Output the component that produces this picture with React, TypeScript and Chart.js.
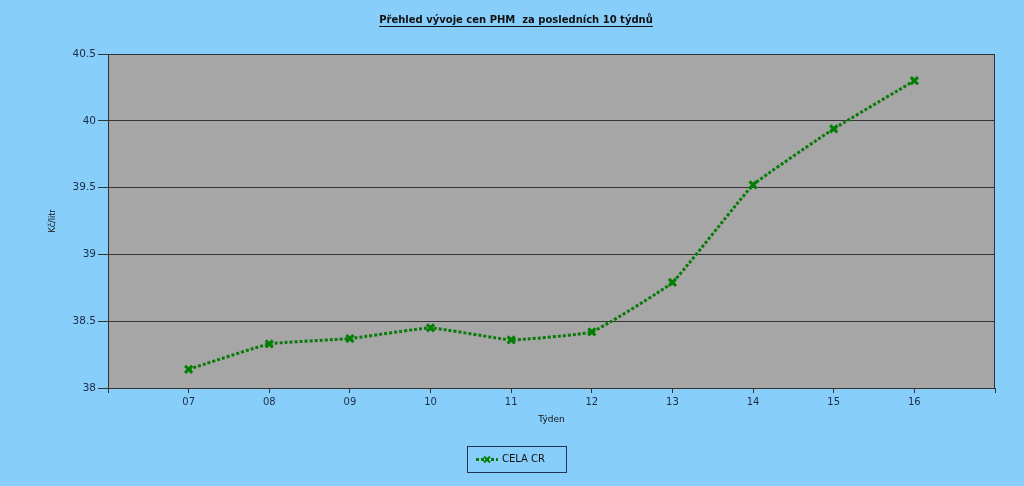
import React, { useEffect, useRef } from "react";
import { Chart, registerables } from "chart.js";

Chart.register(...registerables);

const weekLabels = ["", "07", "08", "09", "10", "11", "12", "13", "14", "15", "16", ""];
const celaCR = [null, 38.14, 38.33, 38.37, 38.45, 38.36, 38.42, 38.79, 39.52, 39.94, 40.3, null];
const yMin = 38;
const yMax = 40.5;
const yStep = 0.5;
const chartTitle = "Přehled vývoje cen PHM  za posledních 10 týdnů";
const yTitle = "Kč/litr";
const xTitle = "Týden";
const seriesName = "CELA CR";

const BG = "#87CEFA";
const PLOT = "#A6A6A6";
const GRID = "#333333";
const TXT = "#1c2c44";
const GREEN = "#008000";
const FONT = "'DejaVu Sans', Tahoma, sans-serif";

const decor = {
  id: "decor",
  beforeDraw(chart: any) {
    const { ctx, chartArea: a } = chart;
    ctx.save();
    ctx.fillStyle = PLOT;
    ctx.fillRect(a.left, a.top, a.right - a.left, a.bottom - a.top);
    ctx.restore();
  },
  afterDraw(chart: any) {
    const { ctx, chartArea: a } = chart;
    ctx.save();
    ctx.strokeStyle = GRID;
    ctx.lineWidth = 1;
    ctx.strokeRect(a.left + 0.5, a.top + 0.5, a.right - a.left - 1, a.bottom - a.top);

    // title
    ctx.fillStyle = "#111111";
    ctx.font = `bold 10px ${FONT}`;
    ctx.textAlign = "center";
    ctx.textBaseline = "middle";
    const cx = 516;
    ctx.fillText(chartTitle, cx, 20);
    const tw = ctx.measureText(chartTitle).width;
    ctx.fillRect(cx - tw / 2, 26, tw, 1);

    // axis titles
    ctx.font = `9px ${FONT}`;
    ctx.fillStyle = "#111111";
    ctx.fillText(xTitle, (a.left + a.right) / 2, 420);
    ctx.save();
    ctx.translate(53, (a.top + a.bottom) / 2);
    ctx.rotate(-Math.PI / 2);
    ctx.font = `8px ${FONT}`;
    ctx.fillText(yTitle, 0, 0);
    ctx.restore();

    // legend
    const bx = 467, by = 446, bw = 99, bh = 26;
    ctx.strokeStyle = "#1f3550";
    ctx.lineWidth = 1;
    ctx.strokeRect(bx + 0.5, by + 0.5, bw, bh);
    const ly = by + bh / 2 + 0.5;
    ctx.strokeStyle = "#0a7a0a";
    ctx.lineWidth = 3;
    ctx.setLineDash([3, 2]);
    ctx.beginPath();
    ctx.moveTo(476, ly);
    ctx.lineTo(498, ly);
    ctx.stroke();
    ctx.setLineDash([]);
    ctx.strokeStyle = GREEN;
    ctx.lineWidth = 2;
    const mx = 487, r = 3;
    ctx.beginPath();
    ctx.moveTo(mx - r, ly - r);
    ctx.lineTo(mx + r, ly + r);
    ctx.moveTo(mx + r, ly - r);
    ctx.lineTo(mx - r, ly + r);
    ctx.stroke();
    ctx.fillStyle = "#111111";
    ctx.font = `10px ${FONT}`;
    ctx.textAlign = "left";
    ctx.fillText(seriesName, 502, ly);
    ctx.restore();
  },
};

export default function App() {
  const ref = useRef<HTMLCanvasElement>(null);
  useEffect(() => {
    document.body.style.margin = "0";
    const chart = new Chart(ref.current!, {
      type: "line",
      data: {
        labels: weekLabels,
        datasets: [
          {
            label: seriesName,
            data: celaCR,
            borderColor: "#0a7a0a",
            borderWidth: 3,
            borderDash: [3, 2],
            borderCapStyle: "butt",
            pointStyle: "crossRot",
            pointRadius: 5,
            pointBorderWidth: 3,
            pointBorderColor: GREEN,
            pointBackgroundColor: GREEN,
            tension: 0.1,
            fill: false,
          } as any,
        ],
      },
      options: {
        animation: false,
        responsive: true,
        maintainAspectRatio: false,
        layout: { padding: { left: 0, right: 29, top: 54, bottom: 58 } },
        plugins: {
          legend: { display: false },
          title: { display: false },
          tooltip: { enabled: false },
        },
        scales: {
          x: {
            type: "category",
            offset: false,
            afterFit: (s: any) => {
              s.height = 40;
            },
            grid: {
              display: true,
              drawOnChartArea: false,
              drawTicks: true,
              tickLength: 5,
              color: GRID,
            },
            border: { display: true, color: GRID, width: 1 },
            ticks: {
              color: TXT,
              font: { family: FONT, size: 10 },
              padding: 3,
              autoSkip: false,
              maxRotation: 0,
            },
          },
          y: {
            type: "linear",
            min: yMin,
            max: yMax,
            afterFit: (s: any) => {
              s.width = 108;
            },
            grid: {
              color: GRID,
              lineWidth: 1,
              drawTicks: true,
              tickLength: 10,
            },
            border: { display: true, color: GRID, width: 1 },
            ticks: {
              stepSize: yStep,
              color: TXT,
              font: { family: FONT, size: 10.5 },
              padding: 2,
              callback: (v: any) => String(Number(v)),
            },
          },
        },
      },
      plugins: [decor],
    });
    return () => chart.destroy();
  }, []);
  return (
    <div style={{ position: "fixed", left: 0, top: 0, width: 1024, height: 486, background: BG }}>
      <canvas ref={ref} />
    </div>
  );
}
